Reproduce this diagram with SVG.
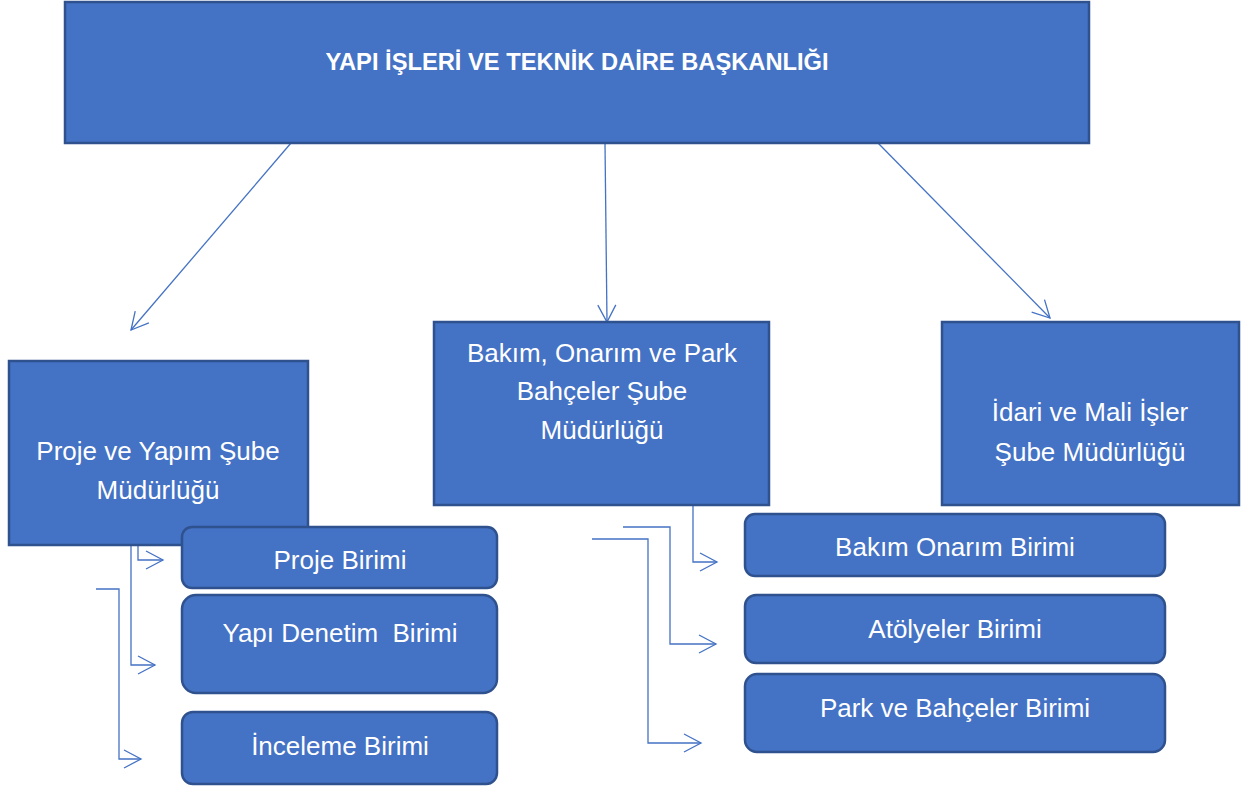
<svg xmlns="http://www.w3.org/2000/svg" width="1251" height="787" viewBox="0 0 1251 787">
<style>
.box{fill:#4472C4;stroke:#2F528F;stroke-width:2.5}
.rbox{fill:#4472C4;stroke:#2F528F;stroke-width:2.5}
.t{fill:#FFFFFF;font-family:"Liberation Sans","Noto Sans",sans-serif;font-size:26px;text-anchor:middle;dominant-baseline:central;white-space:pre}
.tb{fill:#FFFFFF;font-family:"Liberation Sans","Noto Sans",sans-serif;font-size:23.7px;font-weight:bold;text-anchor:middle;dominant-baseline:central}
.c{fill:none;stroke:#4472C4;stroke-width:1.3}
</style>
<defs>
<marker id="arr" markerUnits="userSpaceOnUse" markerWidth="22" markerHeight="24" viewBox="-20 -12 22 24" refX="0" refY="0" orient="auto">
<path d="M-17,-9 L0,0 L-17,9" fill="none" stroke="#4472C4" stroke-width="1.3"/>
</marker>
</defs>
<g id="connectors">
<line class="c" x1="291" y1="143" x2="131" y2="330" marker-end="url(#arr)"/>
<line class="c" x1="605" y1="143" x2="607" y2="322" marker-end="url(#arr)"/>
<line class="c" x1="878" y1="143" x2="1050" y2="318" marker-end="url(#arr)"/>
<polyline class="c" points="138,545 138,560 163,560" marker-end="url(#arr)"/>
<polyline class="c" points="131,545 131,665 155,665" marker-end="url(#arr)"/>
<polyline class="c" points="96,589 119,589 119,759 141,759" marker-end="url(#arr)"/>
<polyline class="c" points="693,505 693,562 717,562" marker-end="url(#arr)"/>
<polyline class="c" points="623,527 670,527 670,644 716,644" marker-end="url(#arr)"/>
<polyline class="c" points="592,539 648,539 648,743 701,743" marker-end="url(#arr)"/>
</g>
<g id="top">
<rect class="box" x="65" y="2" width="1024" height="141"/>
<text class="tb" x="577" y="62">YAPI İŞLERİ VE TEKNİK DAİRE BAŞKANLIĞI</text>
</g>
<g id="proje-yapim">
<rect class="box" x="9" y="361" width="299" height="184"/>
<text class="t" x="158" y="451">Proje ve Yapım Şube</text>
<text class="t" x="158" y="490">Müdürlüğü</text>
</g>
<g id="bakim-onarim">
<rect class="box" x="434" y="322" width="335" height="183"/>
<text class="t" x="602" y="353">Bakım, Onarım ve Park</text>
<text class="t" x="602" y="391">Bahçeler Şube</text>
<text class="t" x="602" y="430">Müdürlüğü</text>
</g>
<g id="idari-mali">
<rect class="box" x="942" y="322" width="297" height="183"/>
<text class="t" x="1090" y="412">İdari ve Mali İşler</text>
<text class="t" x="1090" y="452">Şube Müdürlüğü</text>
</g>
<g id="proje-birimi">
<rect class="rbox" x="182" y="527" width="315" height="61" rx="10"/>
<text class="t" x="340" y="560">Proje Birimi</text>
</g>
<g id="yapi-denetim">
<rect class="rbox" x="182" y="595" width="315" height="98" rx="14"/>
<text class="t" x="340" y="633">Yapı Denetim  Birimi</text>
</g>
<g id="inceleme">
<rect class="rbox" x="182" y="712" width="315" height="72" rx="11"/>
<text class="t" x="340" y="746">İnceleme Birimi</text>
</g>
<g id="bakim-onarim-birimi">
<rect class="rbox" x="745" y="514" width="420" height="62" rx="10"/>
<text class="t" x="955" y="547">Bakım Onarım Birimi</text>
</g>
<g id="atolyeler">
<rect class="rbox" x="745" y="595" width="420" height="68" rx="11"/>
<text class="t" x="955" y="629">Atölyeler Birimi</text>
</g>
<g id="park-bahceler">
<rect class="rbox" x="745" y="674" width="420" height="78" rx="12"/>
<text class="t" x="955" y="708">Park ve Bahçeler Birimi</text>
</g>
</svg>
